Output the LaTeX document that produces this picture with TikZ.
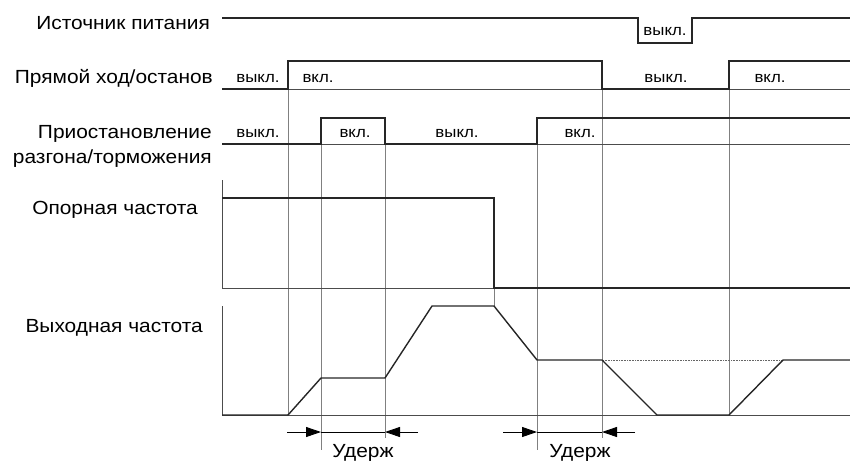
\documentclass[tikz,border=0pt]{standalone}
\usepackage{fontspec}
\setmainfont[FakeStretch=1.1]{Liberation Sans}
\usetikzlibrary{arrows.meta}
\begin{document}
\begin{tikzpicture}[x=1pt,y=-1pt,
  sig/.style={line width=1.4pt, black!85, line join=miter},
  basel/.style={line width=0.7pt, black!70},
  guide/.style={line width=0.7pt, black!50},
  dotl/.style={line width=0.6pt, black!60, densely dotted},
  lbl/.style={font=\fontsize{19}{22}\selectfont, anchor=base east, inner sep=0},
  st/.style={font=\fontsize{15.3}{18}\selectfont, anchor=base, inner sep=0},
  holdtxt/.style={font=\fontsize{19}{22}\selectfont, anchor=base, inner sep=0},
  harrow/.style={line width=0.9pt, -{Triangle[length=15pt,width=10pt]}}]
\useasboundingbox (0,0) rectangle (850,460);

% left labels
\node[lbl] (l1) at (210,30) {Источник питания};
\node[lbl] (l2) at (213,83) {Прямой ход/останов};
\node[lbl] (l3a) at (212,138) {Приостановление};
\node[lbl] (l3b) at (212,163) {разгона/торможения};
\node[lbl] (l4) at (198,214) {Опорная частота};
\node[lbl] (l5) at (203,332) {Выходная частота};

% guide lines
\draw[guide] (288,89) -- (288,415);
\draw[guide] (321,144) -- (321,450);
\draw[guide] (385,144) -- (385,438);
\draw[guide] (494,288) -- (494,306);
\draw[guide] (537,144) -- (537,450);
\draw[guide] (602,89) -- (602,438);
\draw[guide] (729,89) -- (729,415);

% power
\draw[sig] (222,18) -- (638,18) -- (638,43) -- (692,43) -- (692,18) -- (850,18);
\node[st] (p1) at (665,36) {выкл.};

% forward/stop
\draw[basel] (222,89) -- (850,89);
\draw[sig] (222,89) -- (288,89) -- (288,61) -- (602,61) -- (602,89) -- (729,89) -- (729,61) -- (850,61);
\node[st] (f1) at (258,82) {выкл.};
\node[st] (f2) at (318,82) {вкл.};
\node[st] (f3) at (666,82) {выкл.};
\node[st] (f4) at (770,82) {вкл.};

% accel/decel hold
\draw[basel] (222,144) -- (850,144);
\draw[sig] (222,144) -- (321,144) -- (321,118) -- (385,118) -- (385,144) -- (537,144) -- (537,118) -- (850,118);
\node[st] (h1) at (258,137) {выкл.};
\node[st] (h2) at (355,137) {вкл.};
\node[st] (h3) at (457,137) {выкл.};
\node[st] (h4) at (580,137) {вкл.};

% reference frequency
\draw[basel] (222,180) -- (222,288) -- (850,288);
\draw[sig] (222,198) -- (494,198) -- (494,288) -- (850,288);

% output frequency
\draw[basel] (222,306) -- (222,415) -- (850,415);
\draw[dotl] (603,360) -- (783,360);
\draw[sig] (222,415) -- (288,415) -- (321,378) -- (385,378) -- (432,306) -- (494,306) -- (537,360) -- (602,360) -- (657,415) -- (729,415) -- (783,360) -- (850,360);

% hold arrows
\coordinate (a1) at (287,432);
\coordinate (a2) at (321,432);
\coordinate (a3) at (385,432);
\coordinate (a4) at (418,432);
\coordinate (b1) at (503,432);
\coordinate (b2) at (537,432);
\coordinate (b3) at (602,432);
\coordinate (b4) at (635,432);
\draw[harrow] (a1) -- (a2);
\draw[line width=0.9pt] (a2) -- (a3);
\draw[harrow] (a4) -- (a3);
\draw[harrow] (b1) -- (b2);
\draw[line width=0.9pt] (b2) -- (b3);
\draw[harrow] (b4) -- (b3);
\node[holdtxt] (t1) at (363,457) {Удерж};
\node[holdtxt] (t2) at (580,457) {Удерж};
\end{tikzpicture}
\end{document}
